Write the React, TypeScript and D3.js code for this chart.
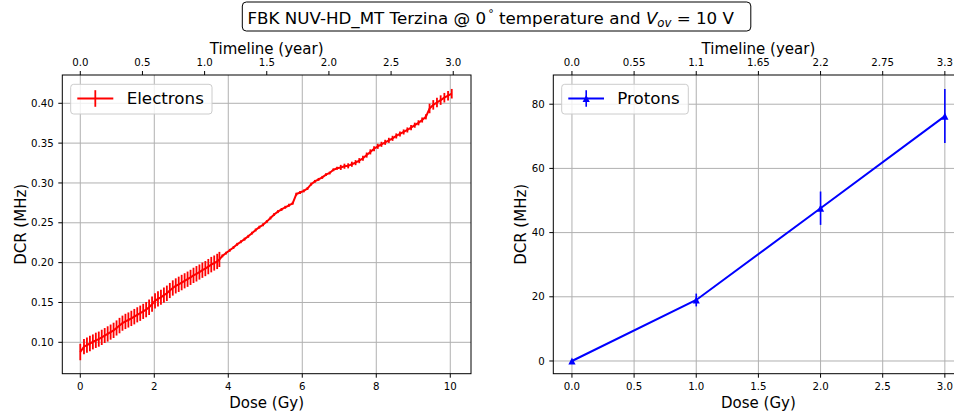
import React from "react";
import * as d3 from "d3";

// ---------- Data ----------
const electronDose = [
  0.0, 0.1, 0.18, 0.26, 0.34, 0.42, 0.5, 0.58, 0.66, 0.74, 0.82, 0.9, 0.98, 1.06, 1.14, 1.22,
  1.3, 1.38, 1.46, 1.54, 1.62, 1.7, 1.78, 1.86, 1.94, 2.02, 2.1, 2.18, 2.26, 2.34, 2.42, 2.5,
  2.58, 2.66, 2.74, 2.82, 2.9, 2.98, 3.06, 3.14, 3.22, 3.3, 3.38, 3.46, 3.54, 3.62, 3.7, 3.76,
  3.84, 3.94, 4.04, 4.14, 4.24, 4.34, 4.44, 4.54, 4.64, 4.74, 4.84, 4.94, 5.04, 5.14, 5.24,
  5.34, 5.44, 5.54, 5.64, 5.74, 5.84, 5.94, 6.04, 6.14, 6.24, 6.34, 6.44, 6.54, 6.64, 6.74,
  6.84, 6.94, 7.04, 7.14, 7.24, 7.34, 7.44, 7.54, 7.64, 7.74, 7.84, 7.94, 8.04, 8.14, 8.24,
  8.34, 8.44, 8.54, 8.64, 8.74, 8.84, 8.94, 9.04, 9.14, 9.24, 9.34, 9.44, 9.54, 9.64, 9.74,
  9.84, 9.94, 10.04,
];
const electronDcr = [
  0.0878, 0.0945, 0.0965, 0.0985, 0.1005, 0.1025, 0.104, 0.1062, 0.1085, 0.1105, 0.1128, 0.115,
  0.118, 0.121, 0.124, 0.1262, 0.128, 0.13, 0.1322, 0.1345, 0.1365, 0.1388, 0.141, 0.144,
  0.1478, 0.152, 0.1545, 0.1565, 0.1592, 0.1615, 0.165, 0.1682, 0.1708, 0.1728, 0.175, 0.1772,
  0.1792, 0.1815, 0.184, 0.186, 0.1882, 0.1905, 0.1925, 0.195, 0.1975, 0.1995, 0.2015, 0.204,
  0.2085, 0.212, 0.2155, 0.219, 0.223, 0.2262, 0.2295, 0.233, 0.237, 0.241, 0.2445, 0.2475,
  0.2515, 0.256, 0.2605, 0.264, 0.2668, 0.2695, 0.272, 0.2745, 0.286, 0.288, 0.29, 0.293,
  0.2985, 0.302, 0.3045, 0.307, 0.3105, 0.3125, 0.3165, 0.3185, 0.3195, 0.321, 0.3215, 0.3235,
  0.3255, 0.328, 0.331, 0.335, 0.339, 0.343, 0.346, 0.3485, 0.351, 0.3535, 0.356, 0.359,
  0.3615, 0.364, 0.3665, 0.3695, 0.3725, 0.3755, 0.379, 0.383, 0.3935, 0.398, 0.401, 0.404,
  0.407, 0.4095, 0.412,
];
const electronErr = [
  0.0103, 0.0096, 0.0095, 0.0096, 0.0094, 0.0096, 0.0095, 0.0096, 0.0094, 0.0096, 0.0095, 0.0096,
  0.0095, 0.0097, 0.0095, 0.0096, 0.0095, 0.0096, 0.0097, 0.0095, 0.0096, 0.0095, 0.0096, 0.0097,
  0.0096, 0.0095, 0.0096, 0.0095, 0.0096, 0.0097, 0.0095, 0.0096, 0.0095, 0.0096, 0.0097, 0.0095,
  0.0096, 0.0095, 0.0096, 0.0097, 0.0095, 0.0096, 0.0095, 0.0096, 0.0097, 0.0095, 0.0096, 0.0095,
  0.0018, 0.0018, 0.0018, 0.0018, 0.0018, 0.0018, 0.0018, 0.0018, 0.0018, 0.0018, 0.0018, 0.0018,
  0.0018, 0.0018, 0.0018, 0.0018, 0.0018, 0.0018, 0.0018, 0.0018, 0.0018, 0.0018, 0.0018, 0.0018,
  0.0018, 0.0018, 0.0018, 0.0018, 0.0018, 0.0018, 0.0018, 0.0018, 0.0032, 0.0032, 0.0032, 0.0032,
  0.0032, 0.0032, 0.0032, 0.0032, 0.0032, 0.0032, 0.0032, 0.0032, 0.0032, 0.0032, 0.0032, 0.0032,
  0.0032, 0.0032, 0.0032, 0.0032, 0.0032, 0.0032, 0.0032, 0.0032, 0.006, 0.006, 0.006, 0.006,
  0.006, 0.006, 0.006,
];

const protonDose = [0, 1, 2, 3];
const protonDcr = [0, 19.0, 47.6, 76.3];
const protonErr = [0, 2.0, 5.2, 8.4];

const leftDoseTicks = [0, 2, 4, 6, 8, 10];
const leftYearTicks = [0, 0.5, 1.0, 1.5, 2.0, 2.5, 3.0];
const leftDcrTicks = [0.1, 0.15, 0.2, 0.25, 0.3, 0.35, 0.4];
const rightDoseTicks = [0, 0.5, 1.0, 1.5, 2.0, 2.5, 3.0];
const rightYearTicks = [0, 0.55, 1.1, 1.65, 2.2, 2.75, 3.3];
const rightYearLabels = ["0.0", "0.55", "1.1", "1.65", "2.2", "2.75", "3.3"];
const rightDcrTicks = [0, 20, 40, 60, 80];

// ---------- Layout ----------
const W = 954;
const H = 414;
const FONT = "DejaVu Sans, Liberation Sans, sans-serif";
const TOP = 75;
const BOTTOM = 373.7;
const L = { x0: 62.3, x1: 471 };
const R = { x0: 553.3, x1: 963.5 };

const xL = d3.scaleLinear().domain([-0.486, 10.56]).range([L.x0, L.x1]);
const yL = d3.scaleLinear().domain([0.0606, 0.4355]).range([BOTTOM, TOP]);
const yearL = d3.scaleLinear().domain([0, 3]).range([xL(0), xL(10.08)]);

const xR = d3.scaleLinear().domain([-0.15, 3.15]).range([R.x0, R.x1]);
const yR = d3.scaleLinear().domain([-3.96, 89.1]).range([BOTTOM, TOP]);
const yearR = d3.scaleLinear().domain([0, 3.3]).range([xR(0), xR(3)]);

const GRID = "#b0b0b0";

function Panel(props: {
  x: d3.ScaleLinear<number, number>;
  y: d3.ScaleLinear<number, number>;
  year: d3.ScaleLinear<number, number>;
  x0: number;
  x1: number;
  xTicks: number[];
  xFmt: (v: number) => string;
  yearTicks: number[];
  yearFmt: (v: number, i: number) => string;
  yTicks: number[];
  yFmt: (v: number) => string;
  yLabelX: number;
  children?: React.ReactNode;
}) {
  const { x, y, year, x0, x1 } = props;
  return (
    <g>
      {props.xTicks.map((t) => (
        <line key={"gx" + t} x1={x(t)} x2={x(t)} y1={TOP} y2={BOTTOM} stroke={GRID} strokeWidth={1} />
      ))}
      {props.yTicks.map((t) => (
        <line key={"gy" + t} x1={x0} x2={x1} y1={y(t)} y2={y(t)} stroke={GRID} strokeWidth={1} />
      ))}
      {props.children}
      <rect x={x0} y={TOP} width={x1 - x0} height={BOTTOM - TOP} fill="none" stroke="#000" strokeWidth={1} />
      {props.xTicks.map((t) => (
        <g key={"bx" + t}>
          <line x1={x(t)} x2={x(t)} y1={BOTTOM} y2={BOTTOM + 4} stroke="#000" strokeWidth={1} />
          <text x={x(t)} y={389.5} fontSize={10.2} textAnchor="middle" fontFamily={FONT}>
            {props.xFmt(t)}
          </text>
        </g>
      ))}
      {props.yearTicks.map((t, i) => (
        <g key={"tx" + t}>
          <line x1={year(t)} x2={year(t)} y1={TOP} y2={TOP - 4} stroke="#000" strokeWidth={1} />
          <text x={year(t)} y={66.3} fontSize={10.2} textAnchor="middle" fontFamily={FONT}>
            {props.yearFmt(t, i)}
          </text>
        </g>
      ))}
      {props.yTicks.map((t) => (
        <g key={"ly" + t}>
          <line x1={x0} x2={x0 - 4} y1={y(t)} y2={y(t)} stroke="#000" strokeWidth={1} />
          <text x={x0 - 8.5} y={y(t)} dy="0.36em" fontSize={10.2} textAnchor="end" fontFamily={FONT}>
            {props.yFmt(t)}
          </text>
        </g>
      ))}
      <text x={(x0 + x1) / 2} y={407.5} fontSize={15} textAnchor="middle" fontFamily={FONT}>
        Dose (Gy)
      </text>
      <text x={(x0 + x1) / 2} y={53.5} fontSize={15} textAnchor="middle" fontFamily={FONT}>
        Timeline (year)
      </text>
      <text
        transform={`translate(${props.yLabelX},${(TOP + BOTTOM) / 2}) rotate(-90)`}
        fontSize={15}
        textAnchor="middle"
        fontFamily={FONT}
      >
        DCR (MHz)
      </text>
    </g>
  );
}

export default function App() {
  const eLine = d3
    .line<number>()
    .x((_, i) => xL(electronDose[i]))
    .y((d) => yL(d));
  const pLine = d3
    .line<number>()
    .x((_, i) => xR(protonDose[i]))
    .y((d) => yR(d));

  const tri = (px: number, py: number, s: number) =>
    `M${px},${py - s}L${px - s},${py + s}L${px + s},${py + s}Z`;

  return (
    <svg
      width={W}
      height={H}
      viewBox={`0 0 ${W} ${H}`}
      style={{ position: "absolute", left: 0, top: 0, background: "#fff" }}
    >
      <rect width={W} height={H} fill="#fff" />
      <defs>
        <clipPath id="figclip">
          <rect x={0} y={0} width={W} height={H} />
        </clipPath>
      </defs>

      {/* Title */}
      <rect x={242.3} y={2} width={508.5} height={29} rx={4} fill="#fff" stroke="#000" strokeWidth={1} />
      <text x={247.5} y={23.5} fontSize={16.7} fontFamily={FONT}>
        <tspan>FBK NUV-HD_MT Terzina @ 0</tspan>
        <tspan fontSize={11} dy={-6.5} dx={2}>°</tspan>
        <tspan dy={6.5}> temperature and </tspan>
        <tspan fontStyle="italic">V</tspan>
        <tspan fontStyle="italic" fontSize={11.7} dy={3.5}>ov</tspan>
        <tspan dy={-3.5}> = 10 V</tspan>
      </text>

      {/* Left panel: electrons */}
      <Panel
        x={xL}
        y={yL}
        year={yearL}
        x0={L.x0}
        x1={L.x1}
        xTicks={leftDoseTicks}
        xFmt={(v) => d3.format("d")(v)}
        yearTicks={leftYearTicks}
        yearFmt={(v) => d3.format(".1f")(v)}
        yTicks={leftDcrTicks}
        yFmt={(v) => d3.format(".2f")(v)}
        yLabelX={25.5}
      >
        <g stroke="#ff0000" strokeWidth={1.8}>
          {electronDcr.map((v, i) => (
            <line
              key={"eb" + i}
              x1={xL(electronDose[i])}
              x2={xL(electronDose[i])}
              y1={yL(v - electronErr[i])}
              y2={yL(v + electronErr[i])}
            />
          ))}
        </g>
        <path d={eLine(electronDcr) || ""} fill="none" stroke="#ff0000" strokeWidth={2} />
      </Panel>

      {/* Left legend */}
      <rect x={70.7} y={84.3} width={141.3} height={29.7} rx={3} fill="#fff" fillOpacity={0.8} stroke="#cccccc" strokeWidth={1} />
      <line x1={77.3} x2={113.3} y1={98.5} y2={98.5} stroke="#ff0000" strokeWidth={2} />
      <line x1={95.3} x2={95.3} y1={90.2} y2={106.8} stroke="#ff0000" strokeWidth={1.8} />
      <text x={126.7} y={104.4} fontSize={16.7} fontFamily={FONT}>
        Electrons
      </text>

      {/* Right panel: protons */}
      <g clipPath="url(#figclip)">
        <Panel
          x={xR}
          y={yR}
          year={yearR}
          x0={R.x0}
          x1={R.x1}
          xTicks={rightDoseTicks}
          xFmt={(v) => d3.format(".1f")(v)}
          yearTicks={rightYearTicks}
          yearFmt={(_, i) => rightYearLabels[i]}
          yTicks={rightDcrTicks}
          yFmt={(v) => d3.format("d")(v)}
          yLabelX={526}
        >
          <g stroke="#0000ff" strokeWidth={1.6}>
            {protonDcr.map((v, i) => (
              <line
                key={"pb" + i}
                x1={xR(protonDose[i])}
                x2={xR(protonDose[i])}
                y1={yR(v - protonErr[i])}
                y2={yR(v + protonErr[i])}
              />
            ))}
          </g>
          <path d={pLine(protonDcr) || ""} fill="none" stroke="#0000ff" strokeWidth={2} />
          {protonDcr.map((v, i) => (
            <path key={"pm" + i} d={tri(xR(protonDose[i]), yR(v), 3.6)} fill="#0000ff" />
          ))}
        </Panel>
      </g>

      {/* Right legend */}
      <rect x={561.7} y={84.3} width={126.6} height={29.7} rx={3} fill="#fff" fillOpacity={0.8} stroke="#cccccc" strokeWidth={1} />
      <line x1={568.3} x2={604} y1={98.5} y2={98.5} stroke="#0000ff" strokeWidth={2} />
      <line x1={586.2} x2={586.2} y1={90.2} y2={106.8} stroke="#0000ff" strokeWidth={1.6} />
      <path d={tri(586.2, 98.5, 3.6)} fill="#0000ff" />
      <text x={617.3} y={104.4} fontSize={16.7} fontFamily={FONT}>
        Protons
      </text>
    </svg>
  );
}
